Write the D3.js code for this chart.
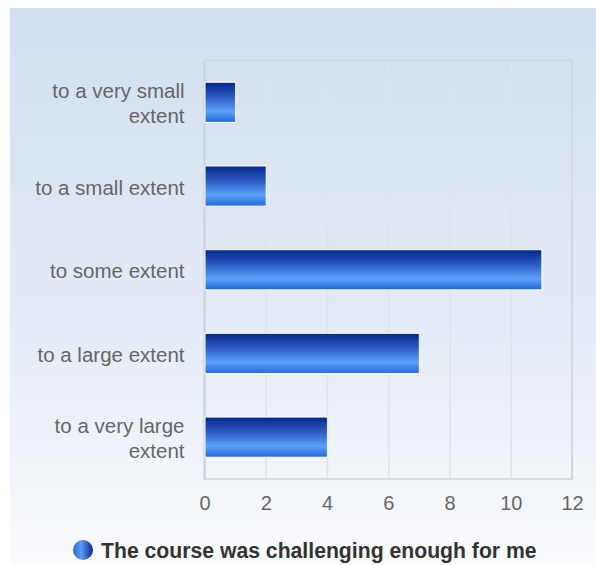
<!DOCTYPE html>
<html>
<head>
<meta charset="utf-8">
<script src="https://cdn.jsdelivr.net/npm/d3@7"></script>
<style>
  body { margin: 0; background: #fff; }
  svg { display: block; font-family: "Liberation Sans", Arial, sans-serif; }
</style>
</head>
<body>
<svg id="chart" width="596" height="565"></svg>
<script>
// chart data
var categories = ["to a very small extent", "to a small extent", "to some extent", "to a large extent", "to a very large extent"];
var labelLines = [["to a very small", "extent"], ["to a small extent"], ["to some extent"], ["to a large extent"], ["to a very large", "extent"]];
var values = [1, 2, 11, 7, 4];
var xTicks = [0, 2, 4, 6, 8, 10, 12];
var seriesName = "The course was challenging enough for me";

var svg = d3.select("#chart");
var defs = svg.append("defs");

var bg = defs.append("linearGradient").attr("id", "bg").attr("x1", 0).attr("y1", 0).attr("x2", 0).attr("y2", 1);
bg.append("stop").attr("offset", "0%").attr("stop-color", "#d2dff0");
bg.append("stop").attr("offset", "60%").attr("stop-color", "#e6ecf5");
bg.append("stop").attr("offset", "100%").attr("stop-color", "#fafbfd");

var barG = defs.append("linearGradient").attr("id", "bar").attr("x1", 0).attr("y1", 0).attr("x2", 0).attr("y2", 1);
barG.append("stop").attr("offset", "0%").attr("stop-color", "#06268a");
barG.append("stop").attr("offset", "35%").attr("stop-color", "#2a58bf");
barG.append("stop").attr("offset", "72%").attr("stop-color", "#5aa2fb");
barG.append("stop").attr("offset", "100%").attr("stop-color", "#2466d6");

var dot = defs.append("linearGradient").attr("id", "dot").attr("x1", 0).attr("y1", 0).attr("x2", 1).attr("y2", 0);
dot.append("stop").attr("offset", "0%").attr("stop-color", "#2a6ad8");
dot.append("stop").attr("offset", "40%").attr("stop-color", "#5a9cf5");
dot.append("stop").attr("offset", "100%").attr("stop-color", "#0a2a8c");

svg.append("rect").attr("x", 10).attr("y", 8).attr("width", 586).attr("height", 557).attr("fill", "url(#bg)");

var pLeft = 204.5, pRight = 572, pTop = 60.5, pBottom = 479;

var x = d3.scaleLinear().domain([0, 12]).range([pLeft, pRight]);
var y = d3.scaleBand().domain(categories).range([pTop, pBottom]).paddingInner(0.52).paddingOuter(0.26);

// grid
svg.append("g").attr("class", "grid")
  .attr("transform", "translate(0," + pBottom + ")")
  .call(d3.axisBottom(x).tickValues(xTicks).tickSize(-(pBottom - pTop)).tickFormat(""))
  .call(function(g){
    g.select(".domain").remove();
    g.selectAll("line").attr("stroke", "#dfe3ea").attr("stroke-width", 1.5);
  });

svg.append("rect").attr("x", pLeft).attr("y", pTop).attr("width", pRight - pLeft).attr("height", pBottom - pTop)
  .attr("fill", "none").attr("stroke", "#cfd3da").attr("stroke-width", 1.5);
svg.append("line").attr("x1", pLeft).attr("x2", pLeft).attr("y1", pTop).attr("y2", pBottom)
  .attr("stroke", "#c8d3e6").attr("stroke-width", 2);

// bars
svg.append("g").selectAll("rect").data(values).enter().append("rect")
  .attr("x", x(0) + 0.5)
  .attr("y", function(d, i){ return y(categories[i]); })
  .attr("width", function(d){ return x(d) - x(0); })
  .attr("height", y.bandwidth())
  .attr("fill", "url(#bar)")
  .attr("stroke", "#ffffff").attr("stroke-opacity", 0.85).attr("stroke-width", 1.2);

// x tick labels
svg.append("g")
  .attr("transform", "translate(0," + pBottom + ")")
  .call(d3.axisBottom(x).tickValues(xTicks).tickSize(0).tickPadding(17))
  .call(function(g){
    g.select(".domain").remove();
    g.selectAll("text").attr("fill", "#666").style("font-size", "20px").style("font-family", "Liberation Sans, Arial, sans-serif");
  });

// category labels
var lab = svg.append("g").selectAll("text").data(categories).enter().append("text")
  .attr("text-anchor", "end")
  .attr("fill", "#666")
  .style("font-size", "20.5px");
lab.each(function(d, i){
  var lines = labelLines[i];
  var cy = y(d) + y.bandwidth() / 2;
  var lh = 25;
  var y0 = cy - (lines.length - 1) * lh / 2 + 8.5;
  var t = d3.select(this);
  lines.forEach(function(s, k){
    t.append("tspan").attr("x", 184.5).attr("y", y0 + k * lh).text(s);
  });
});

// legend
var leg = svg.append("g");
leg.append("circle").attr("cx", 83).attr("cy", 550).attr("r", 10).attr("fill", "url(#dot)");
leg.append("text").attr("x", 101).attr("y", 558)
  .attr("fill", "#333").style("font-size", "21.2px").style("font-weight", "bold")
  .text(seriesName);
</script>
</body>
</html>
